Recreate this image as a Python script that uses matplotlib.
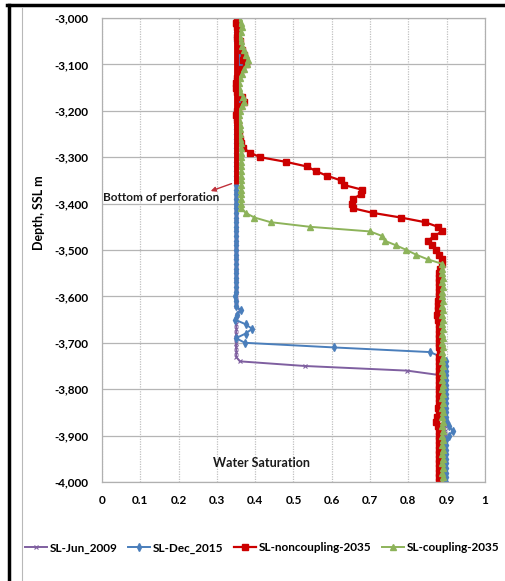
import matplotlib
matplotlib.use('Agg')
import matplotlib.pyplot as plt
from matplotlib.lines import Line2D
from matplotlib.ticker import FuncFormatter

plt.rcParams['font.family'] = ['Lato', 'DejaVu Sans']
plt.rcParams['font.weight'] = 'bold'

# depth levels of the model grid (m, SSL)
depth = [-3000, -3010, -3020, -3030, -3040, -3050, -3060, -3070, -3080, -3090,
         -3100, -3110, -3120, -3130, -3140, -3150, -3160, -3170, -3180, -3190,
         -3200, -3210, -3220, -3230, -3240, -3250, -3260, -3270, -3280, -3290,
         -3300, -3310, -3320, -3330, -3340, -3350, -3360, -3370, -3380, -3390,
         -3400, -3410, -3420, -3430, -3440, -3450, -3460, -3470, -3480, -3490,
         -3500, -3510, -3520, -3530, -3540, -3550, -3560, -3570, -3580, -3590,
         -3600, -3610, -3620, -3630, -3640, -3650, -3660, -3670, -3680, -3690,
         -3700, -3710, -3720, -3730, -3740, -3750, -3760, -3770, -3780, -3790,
         -3800, -3810, -3820, -3830, -3840, -3850, -3860, -3870, -3880, -3890,
         -3900, -3910, -3920, -3930, -3940, -3950, -3960, -3970, -3980, -3990,
         -4000]

sw_jun_2009 = [0.350, 0.350, 0.351, 0.350, 0.350, 0.351, 0.352, 0.355, 0.358, 0.356,
               0.358, 0.355, 0.352, 0.350, 0.350, 0.350, 0.352, 0.356, 0.358, 0.354,
               0.350, 0.350, 0.350, 0.351, 0.350, 0.350, 0.350, 0.351, 0.350, 0.350,
               0.350, 0.350, 0.351, 0.350, 0.350, 0.350, 0.350, 0.351, 0.350, 0.350,
               0.350, 0.350, 0.350, 0.351, 0.350, 0.350, 0.350, 0.350, 0.351, 0.350,
               0.350, 0.350, 0.350, 0.351, 0.350, 0.350, 0.350, 0.350, 0.351, 0.350,
               0.350, 0.350, 0.351, 0.360, 0.352, 0.350, 0.350, 0.351, 0.350, 0.350,
               0.350, 0.350, 0.351, 0.350, 0.360, 0.530, 0.797, 0.885, 0.895, 0.895,
               0.895, 0.896, 0.895, 0.895, 0.896, 0.895, 0.895, 0.896, 0.895, 0.895,
               0.895, 0.896, 0.895, 0.895, 0.896, 0.895, 0.895, 0.896, 0.895, 0.895,
               0.895]

sw_dec_2015 = [0.349, 0.349, 0.350, 0.349, 0.350, 0.351, 0.352, 0.355, 0.358, 0.360,
               0.362, 0.356, 0.352, 0.350, 0.349, 0.349, 0.352, 0.358, 0.360, 0.354,
               0.350, 0.349, 0.349, 0.350, 0.349, 0.349, 0.349, 0.350, 0.349, 0.349,
               0.349, 0.349, 0.350, 0.349, 0.349, 0.349, 0.349, 0.350, 0.349, 0.349,
               0.349, 0.349, 0.349, 0.350, 0.349, 0.349, 0.349, 0.349, 0.350, 0.349,
               0.349, 0.349, 0.349, 0.350, 0.349, 0.349, 0.349, 0.349, 0.350, 0.349,
               0.348, 0.349, 0.350, 0.362, 0.352, 0.347, 0.375, 0.392, 0.375, 0.350,
               0.373, 0.606, 0.856, 0.885, 0.898, 0.899, 0.898, 0.899, 0.898, 0.899,
               0.898, 0.899, 0.898, 0.899, 0.898, 0.899, 0.898, 0.900, 0.906, 0.916,
               0.906, 0.899, 0.898, 0.899, 0.898, 0.899, 0.898, 0.899, 0.898, 0.899,
               0.898]

sw_noncoupling_2035 = [0.352, 0.350, 0.352, 0.355, 0.352, 0.360, 0.355, 0.365, 0.372, 0.368,
                       0.375, 0.365, 0.358, 0.352, 0.350, 0.350, 0.352, 0.365, 0.372, 0.360,
                       0.352, 0.350, 0.352, 0.355, 0.356, 0.358, 0.360, 0.363, 0.368, 0.386,
                       0.413, 0.480, 0.535, 0.559, 0.587, 0.624, 0.632, 0.679, 0.676, 0.655,
                       0.653, 0.655, 0.707, 0.780, 0.843, 0.877, 0.888, 0.867, 0.851, 0.861,
                       0.872, 0.880, 0.888, 0.888, 0.882, 0.880, 0.881, 0.879, 0.880, 0.881,
                       0.880, 0.878, 0.876, 0.878, 0.874, 0.877, 0.880, 0.879, 0.881, 0.880,
                       0.881, 0.880, 0.882, 0.880, 0.881, 0.879, 0.880, 0.881, 0.880, 0.879,
                       0.880, 0.879, 0.881, 0.880, 0.878, 0.880, 0.874, 0.873, 0.878, 0.880,
                       0.880, 0.881, 0.880, 0.879, 0.880, 0.881, 0.880, 0.879, 0.880, 0.881,
                       0.880]

sw_coupling_2035 = [0.358, 0.362, 0.365, 0.362, 0.360, 0.362, 0.365, 0.370, 0.375, 0.380,
                    0.378, 0.372, 0.365, 0.360, 0.358, 0.358, 0.360, 0.368, 0.372, 0.365,
                    0.360, 0.358, 0.359, 0.360, 0.360, 0.361, 0.361, 0.362, 0.362, 0.362,
                    0.362, 0.362, 0.363, 0.363, 0.362, 0.363, 0.363, 0.362, 0.363, 0.363,
                    0.362, 0.364, 0.375, 0.398, 0.440, 0.543, 0.700, 0.732, 0.738, 0.768,
                    0.795, 0.820, 0.850, 0.889, 0.889, 0.889, 0.890, 0.889, 0.890, 0.889,
                    0.889, 0.890, 0.889, 0.890, 0.889, 0.890, 0.889, 0.890, 0.889, 0.890,
                    0.889, 0.890, 0.889, 0.890, 0.889, 0.890, 0.889, 0.890, 0.889, 0.890,
                    0.889, 0.890, 0.889, 0.890, 0.889, 0.890, 0.889, 0.890, 0.889, 0.890,
                    0.889, 0.890, 0.889, 0.890, 0.889, 0.890, 0.889, 0.890, 0.889, 0.890,
                    0.889]

# perforated interval marked on the well (drawn in red along the profile)
perf_sw = [0.350, 0.350]
perf_depth = [-3000, -3358]

x_ticks = [0, 0.1, 0.2, 0.3, 0.4, 0.5, 0.6, 0.7, 0.8, 0.9, 1]
x_tick_labels = ['0', '0.1', '0.2', '0.3', '0.4', '0.5', '0.6', '0.7', '0.8', '0.9', '1']
y_ticks = [-3000, -3100, -3200, -3300, -3400, -3500, -3600, -3700, -3800, -3900, -4000]

fig = plt.figure(figsize=(5.06, 5.81), dpi=100)
ax = fig.add_axes([102 / 506, 1 - 482 / 581, 383 / 506, 464 / 581])

ax.plot(sw_jun_2009, depth, color='#7f5fa0', lw=1.4, marker='x', ms=3.5, mew=0.8,
        label='SL-Jun_2009')
ax.plot(sw_dec_2015, depth, color='#4a7ebb', lw=1.4, marker='d', ms=3.8,
        label='SL-Dec_2015')
ax.plot(sw_noncoupling_2035, depth, color='#cc0000', lw=1.6, marker='s', ms=4,
        label='SL-noncoupling-2035')
ax.plot(sw_coupling_2035, depth, color='#8db35a', lw=1.4, marker='^', ms=3.8,
        label='SL-coupling-2035')
ax.plot(perf_sw, perf_depth, color='#cc0000', lw=3.5, solid_capstyle='butt', zorder=2.5)

ax.set_xlim(0, 1)
ax.set_ylim(-4000, -3000)
ax.set_xticks(x_ticks)
ax.set_xticklabels(x_tick_labels)
ax.set_yticks(y_ticks)
ax.yaxis.set_major_formatter(FuncFormatter(lambda v, p: '{:,.0f}'.format(v)))
ax.tick_params(length=0, labelsize=8.5)
ax.tick_params(axis='y', pad=10)
ax.tick_params(axis='x', pad=9)

ax.grid(axis='y', color='#b5b5b5', lw=0.9, ls='-')
ax.grid(axis='x', color='#c0c0c0', lw=0.9, ls=(0, (1, 1)))
ax.set_axisbelow(True)
for s in ax.spines.values():
    s.set_color('#b0b0b0')
    s.set_linewidth(0.9)

ax.set_ylabel('Depth, SSL m', fontsize=9, fontweight='bold')
ax.yaxis.set_label_coords(-0.148, 0.58)

ax.text(0.003, -3386, 'Bottom of perforation', fontsize=8.5, fontweight='bold',
        ha='left', va='center', color='#1a1a1a')
ax.annotate('', xy=(0.277, -3375), xytext=(0.345, -3355),
            arrowprops=dict(arrowstyle='-|>', color='#c0303a', lw=1.0, mutation_scale=7))
ax.text(0.29, -3959, 'Water Saturation', fontsize=9, fontweight='bold',
        ha='left', va='center', color='#1a1a1a')

fig.legend(loc='center', bbox_to_anchor=(262 / 506, 1 - 548 / 581), ncol=4, frameon=False,
           fontsize=8.5, handlelength=1.9, handletextpad=0.2, columnspacing=0.9)

# outer frame of the slide
fig.add_artist(Line2D([7 / 506, 1], [1 - 5 / 581, 1 - 5 / 581], color='black', lw=2.5))
fig.add_artist(Line2D([9 / 506, 9 / 506], [0, 1 - 5 / 581], color='black', lw=2.5))
fig.add_artist(Line2D([22 / 506, 22 / 506], [0, 1 - 8 / 581], color='#b8b8b8', lw=0.8))

fig.savefig('out.png', dpi=100)
